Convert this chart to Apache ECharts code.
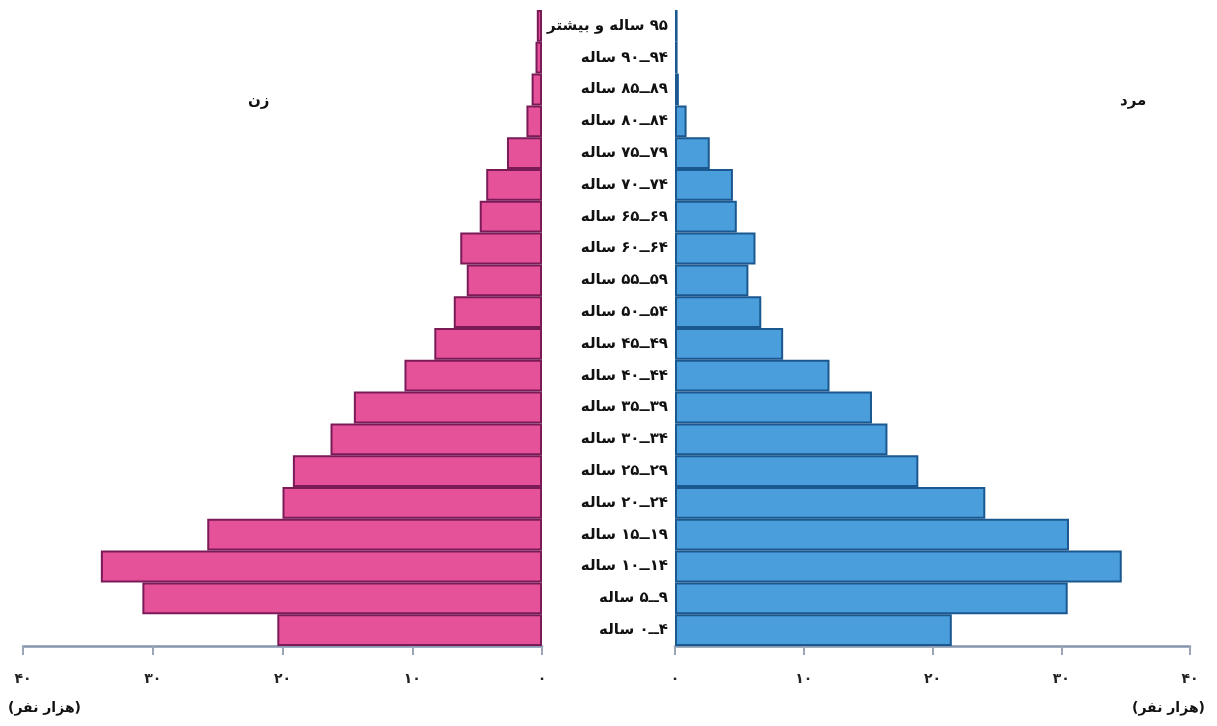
<!DOCTYPE html>
<html>
<head>
<meta charset="utf-8">
<script src="https://cdn.jsdelivr.net/npm/echarts@6/dist/echarts.min.js"></script>
<style>
html,body{margin:0;padding:0;background:#ffffff;}
#chart{width:1217px;height:726px;}
</style>
</head>
<body>
<div id="chart"></div>
<script>
// Age groups, bottom to top
var ageGroups = [
  "۴ــ۰ ساله", "۹ــ۵ ساله", "۱۴ــ۱۰ ساله", "۱۹ــ۱۵ ساله", "۲۴ــ۲۰ ساله",
  "۲۹ــ۲۵ ساله", "۳۴ــ۳۰ ساله", "۳۹ــ۳۵ ساله", "۴۴ــ۴۰ ساله", "۴۹ــ۴۵ ساله",
  "۵۴ــ۵۰ ساله", "۵۹ــ۵۵ ساله", "۶۴ــ۶۰ ساله", "۶۹ــ۶۵ ساله", "۷۴ــ۷۰ ساله",
  "۷۹ــ۷۵ ساله", "۸۴ــ۸۰ ساله", "۸۹ــ۸۵ ساله", "۹۴ــ۹۰ ساله", "۹۵ ساله و بیشتر"
];
// thousands of people
var women = [20.4, 30.8, 34.0, 25.8, 20.0, 19.2, 16.3, 14.5, 10.6, 8.3, 6.8, 5.8, 6.3, 4.8, 4.3, 2.7, 1.2, 0.8, 0.5, 0.4];
var men   = [21.5, 30.5, 34.7, 30.6, 24.1, 18.9, 16.5, 15.3, 12.0, 8.4, 6.7, 5.7, 6.25, 4.8, 4.5, 2.7, 0.9, 0.3, 0.2, 0.2];
var axisMax = 40;
var axisStep = 10;
var womenLabel = "زن";
var menLabel = "مرد";
var unitLabel = "(هزار نفر)";

var RLM = "\u200F";
function fa(n) {
  return String(n).replace(/[0-9]/g, function (d) { return "۰۱۲۳۴۵۶۷۸۹"[+d]; });
}
function rtl(s) { return RLM + s + RLM; }

var FONT = "DejaVu Sans";
var axisColor = "#8594ad";

function xAxisCfg(gi, inverse) {
  return {
    type: "value", gridIndex: gi, min: 0, max: axisMax, interval: axisStep, inverse: inverse,
    position: "bottom",
    axisLine: { show: true, onZero: false, lineStyle: { color: axisColor, width: 2.5 } },
    axisTick: { show: true, length: 9, lineStyle: { color: "#9aa6b8", width: 2 } },
    axisLabel: { margin: 26, fontSize: 14, fontWeight: "bold", color: "#222", fontFamily: FONT,
      formatter: function (v) { return fa(v); } },
    splitLine: { show: false }
  };
}

var chart = echarts.init(document.getElementById("chart"));
chart.setOption({
  backgroundColor: "#ffffff",
  animation: false,
  grid: [
    { left: 23, width: 519, top: 10, height: 636 },
    { left: 675, width: 515, top: 10, height: 636 }
  ],
  xAxis: [xAxisCfg(0, true), xAxisCfg(1, false)],
  yAxis: [
    { type: "category", gridIndex: 0, data: ageGroups, axisLine: { show: false }, axisTick: { show: false },
      axisLabel: { show: false } },
    { type: "category", gridIndex: 1, data: ageGroups, axisLine: { show: false }, axisTick: { show: false },
      axisLabel: { show: true, margin: 7, fontSize: 15, fontWeight: "bold", color: "#111", fontFamily: FONT,
        formatter: function (v) { return rtl(v); } } }
  ],
  series: [
    { type: "bar", name: womenLabel, xAxisIndex: 0, yAxisIndex: 0, data: women, barCategoryGap: "0%",
      itemStyle: { color: "#e6529a", borderColor: "#7a1b58", borderWidth: 2 } },
    { type: "bar", name: menLabel, xAxisIndex: 1, yAxisIndex: 1, data: men, barCategoryGap: "0%",
      itemStyle: { color: "#4a9edc", borderColor: "#1b5890", borderWidth: 2 } }
  ],
  graphic: [
    { type: "text", left: 248, top: 94, style: { text: rtl(womenLabel), font: "bold 15px '" + FONT + "'", fill: "#111" } },
    { type: "text", left: 1120, top: 94, style: { text: rtl(menLabel), font: "bold 15px '" + FONT + "'", fill: "#111" } },
    { type: "text", left: 8, top: 701, style: { text: rtl(unitLabel), font: "bold 14px '" + FONT + "'", fill: "#111" } },
    { type: "text", left: 1132, top: 701, style: { text: rtl(unitLabel), font: "bold 14px '" + FONT + "'", fill: "#111" } }
  ]
});
</script>
</body>
</html>
